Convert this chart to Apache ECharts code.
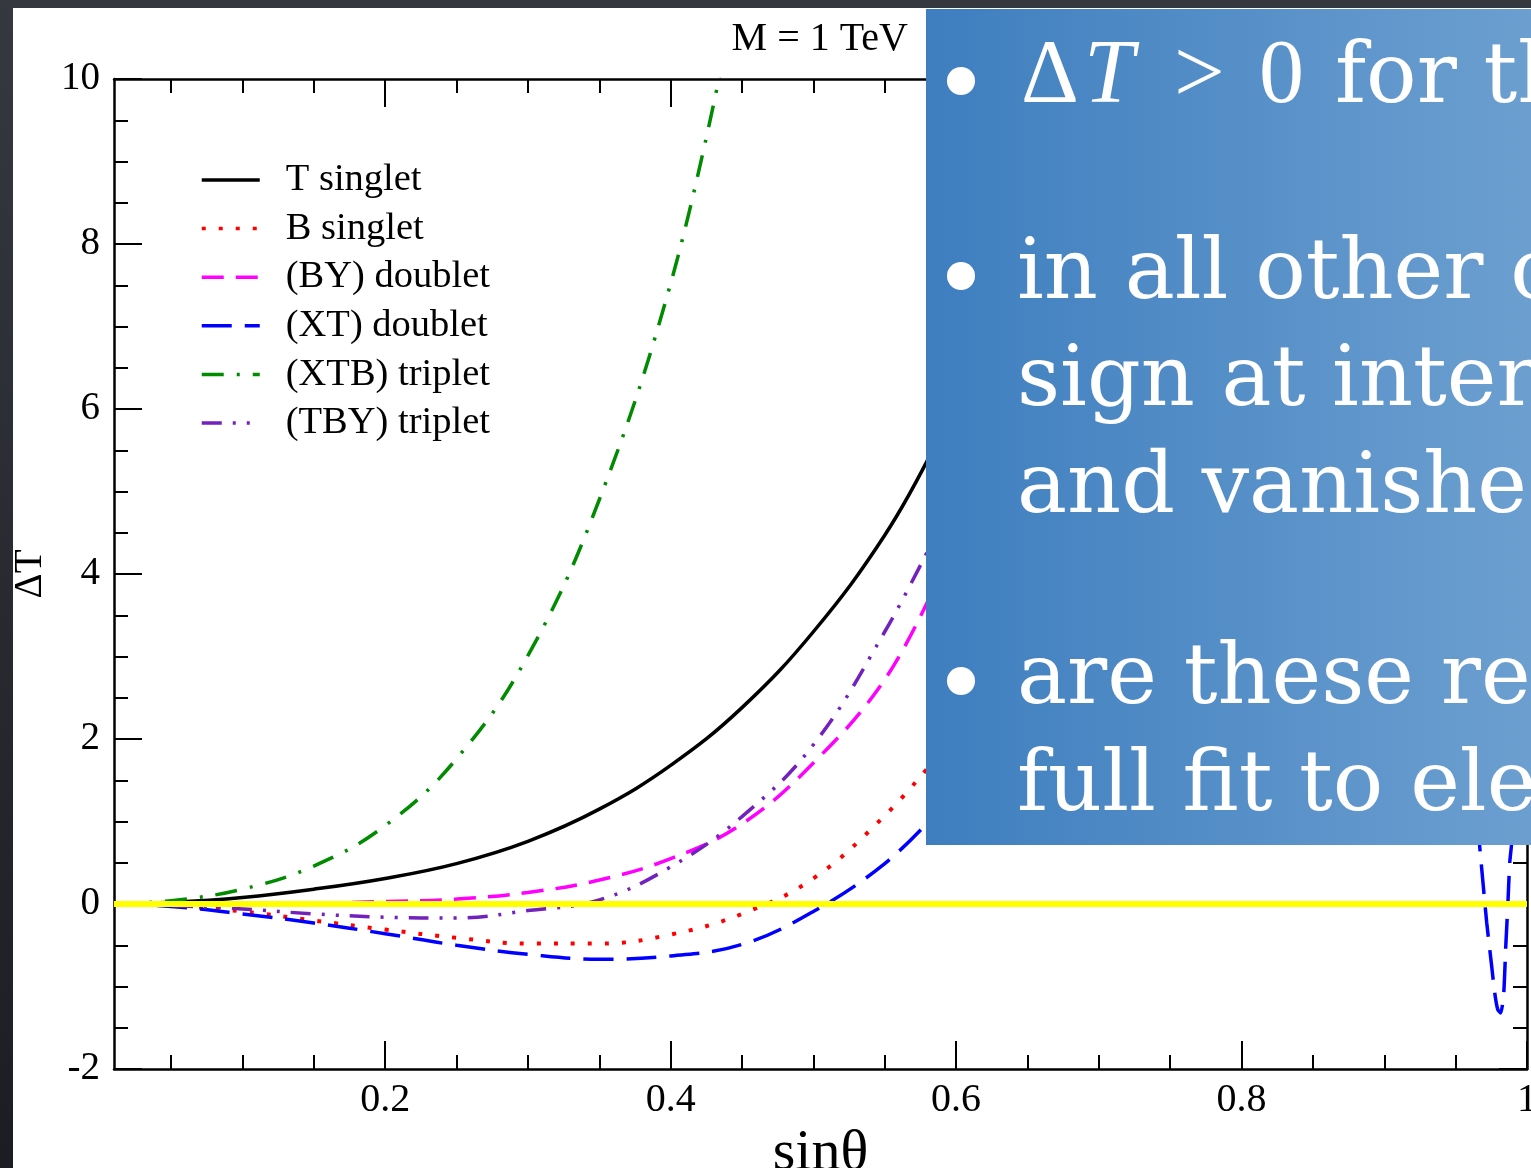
<!DOCTYPE html>
<html>
<head>
<meta charset="utf-8">
<script src="https://cdn.jsdelivr.net/npm/echarts@6/dist/echarts.min.js"></script>
<style>
  html, body { margin: 0; padding: 0; width: 1531px; height: 1168px; overflow: hidden;
    background: linear-gradient(#363840, #1c1d22); }
  #panel { position: absolute; left: 13px; top: 8px; width: 1518px; height: 1160px; background: #fff; }
  #chart { position: absolute; left: 0; top: 0; width: 1531px; height: 1168px; }
</style>
</head>
<body>
<div id="panel"></div>
<div id="chart"></div>
<script>
// sin(theta) sample points shared by most curves
const xs = [0.01, 0.05, 0.1, 0.15, 0.2, 0.25, 0.3, 0.35, 0.4, 0.45, 0.5, 0.55, 0.585];
const tSinglet   = [0, 0.02, 0.08, 0.18, 0.31, 0.49, 0.76, 1.15, 1.68, 2.38, 3.3, 4.47, 5.55];
const bSinglet   = [0, -0.02, -0.09, -0.2, -0.31, -0.41, -0.48, -0.48, -0.37, -0.12, 0.31, 1.07, 1.75];
const byDoublet  = [0, 0, 0, 0.01, 0.03, 0.06, 0.14, 0.29, 0.55, 0.97, 1.71, 2.72, 3.85];
const xtDoublet  = [0, -0.03, -0.12, -0.23, -0.36, -0.5, -0.61, -0.67, -0.63, -0.49, -0.09, 0.49, 1.08];
const tbyTriplet = [0, -0.02, -0.06, -0.12, -0.16, -0.17, -0.08, 0.05, 0.45, 1.06, 1.93, 3.3, 4.45];

// (XTB) triplet rises steeply and leaves the frame near sin(theta) = 0.435
const xtbX       = [0.01, 0.05, 0.1, 0.15, 0.2, 0.25, 0.3, 0.35, 0.4, 0.435];
const xtbTriplet = [0, 0.04, 0.18, 0.46, 0.95, 1.76, 3.01, 4.9, 7.52, 10.1];

// narrow (XT) doublet dip close to sin(theta) = 1
const xtTailX = [0.9655, 0.9669, 0.969, 0.9718, 0.9753, 0.9774, 0.9795, 0.9816, 0.9837, 0.9851, 0.9865, 0.9879, 0.9893, 0.9905];
const xtTailY = [1.0, 0.69, 0.29, -0.23, -0.76, -1.08, -1.28, -1.32, -1.08, -0.52, -0.04, 0.5, 0.74, 1.0];

// axis ticks and labels
const xMajor = [0.2, 0.4, 0.6, 0.8, 1];
const xMinor = [0.05, 0.1, 0.15, 0.25, 0.3, 0.35, 0.45, 0.5, 0.55, 0.65, 0.7, 0.75, 0.85, 0.9, 0.95];
const yMin = -2, yMax = 10, yStep = 2;

const names = ['T singlet', 'B singlet', '(BY) doublet', '(XT) doublet', '(XTB) triplet', '(TBY) triplet'];

const pairs = (x, y) => x.map((v, i) => [v, y[i]]);
const serif = 'Liberation Serif';

function curve(name, x, y, color, type, width, smooth) {
  return {
    name, type: 'line', data: pairs(x, y), symbol: 'none', smooth: smooth || 0.4,
    lineStyle: { color, width, type, cap: 'butt' }, itemStyle: { color }, z: 2, silent: true
  };
}

const tickStyle = { color: '#000', width: 2 };
const lineStyle = { color: '#000', width: 2.5 };

function xAxisPair(position, withLabels) {
  return [
    { type: 'value', min: 0.01, max: 1, position,
      axisLine: { show: true, onZero: false, lineStyle },
      axisTick: { show: true, inside: true, length: 28, lineStyle: tickStyle, customValues: xMajor },
      axisLabel: withLabels ? { show: true, customValues: xMajor, color: '#000', fontFamily: serif, fontSize: 40, margin: 11, hideOverlap: false } : { show: false },
      splitLine: { show: false },
      name: withLabels ? 'sinθ' : '', nameLocation: 'middle', nameGap: 44,
      nameTextStyle: { color: '#000', fontFamily: serif, fontSize: 58 } },
    { type: 'value', min: 0.01, max: 1, position,
      axisLine: { show: false, onZero: false },
      axisTick: { show: true, inside: true, length: 14, lineStyle: tickStyle, customValues: xMinor },
      axisLabel: { show: false }, splitLine: { show: false } }
  ];
}

function yAxis(position, withLabels) {
  return {
    type: 'value', min: yMin, max: yMax, interval: yStep, position,
    axisLine: { show: true, onZero: false, lineStyle },
    axisTick: { show: true, inside: true, length: 28, lineStyle: tickStyle },
    minorTick: { show: true, splitNumber: 4, length: 14, lineStyle: tickStyle },
    axisLabel: withLabels ? { show: true, color: '#000', fontFamily: serif, fontSize: 39, margin: 14 } : { show: false },
    splitLine: { show: false }, minorSplitLine: { show: false },
    name: withLabels ? 'ΔT' : '', nameLocation: 'middle', nameGap: 61, nameRotate: 90,
    nameTextStyle: { color: '#000', fontFamily: serif, fontSize: 39 }
  };
}

const boxFont = '84px "DejaVu Serif"';
const mathFont = '90px "Liberation Serif"';
const mathItalic = 'italic 90px "Liberation Serif"';
const txt = (text, x, y, font) => ({ type: 'text', x, y, z: 101, silent: true,
  style: { text, font, fill: '#fff', align: 'left', verticalAlign: 'middle' } });
const bullet = (cx, cy) => ({ type: 'circle', z: 101, silent: true, shape: { cx, cy, r: 14 }, style: { fill: '#fff' } });

const chart = echarts.init(document.getElementById('chart'), null, { renderer: 'canvas' });
chart.setOption({
  animation: false,
  grid: { left: 114, right: 4, top: 79, bottom: 99, containLabel: false, outerBoundsMode: 'none' },
  xAxis: [...xAxisPair('bottom', true), ...xAxisPair('top', false)],
  yAxis: [yAxis('left', true), yAxis('right', false)],
  legend: {
    data: names, orient: 'vertical', left: 200, top: 160, padding: 0,
    itemWidth: 58, itemHeight: 14, itemGap: 8.6, selectedMode: false,
    itemStyle: { opacity: 0 },
    lineStyle: { width: 3.5 },
    textStyle: { color: '#000', fontFamily: serif, fontSize: 38.5, lineHeight: 40, padding: [0, 0, 0, 21] }
  },
  series: [
    curve(names[0], xs, tSinglet, '#000000', 'solid', 3.5),
    curve(names[1], xs, bSinglet, '#ff0000', [4, 13], 4),
    curve(names[2], xs, byDoublet, '#ff00ff', [22, 12], 3.5),
    curve(names[3], xs, xtDoublet, '#0000ff', [30, 13], 3.5),
    curve(names[4], xtbX, xtbTriplet, '#008b00', [22, 13, 3, 13], 3.5),
    curve(names[5], xs, tbyTriplet, '#7221bc', [20, 11, 3, 11, 3, 11], 3.5),
    curve(names[3], xtTailX, xtTailY, '#0000ff', [30, 13], 3.5, 0.2),
    { name: 'ΔT = 0', type: 'line', data: [[0.01, 0], [1, 0]], symbol: 'none', silent: true, z: 3,
      lineStyle: { color: '#ffff00', width: 6 } }
  ],
  graphic: [
    { type: 'text', x: 908, y: 39, silent: true,
      style: { text: 'M = 1 TeV', font: '40px "Liberation Serif"', fill: '#000', align: 'right', verticalAlign: 'middle' } },
    { type: 'rect', z: 100, silent: true, shape: { x: 926, y: 9, width: 605, height: 836 },
      style: { fill: new echarts.graphic.LinearGradient(0, 0, 1, 0, [
        { offset: 0, color: '#3e7ebf' }, { offset: 1, color: '#6c9fd0' }]) } },
    bullet(961, 81), bullet(961, 276), bullet(961, 681),
    txt('Δ', 1021, 78, mathFont),
    txt('T', 1084, 78, mathItalic),
    txt('>', 1174, 78, mathFont),
    txt('0', 1259, 78, mathFont),
    txt('for the T singlet', 1335, 80, boxFont),
    txt('in all other cases', 1017, 276, boxFont),
    txt('sign at intermediate', 1017, 383, boxFont),
    txt('and vanishes', 1017, 490, boxFont),
    txt('are these relevant', 1017, 681, boxFont),
    txt('full fit to electroweak', 1017, 788, boxFont)
  ]
});
</script>
</body>
</html>
